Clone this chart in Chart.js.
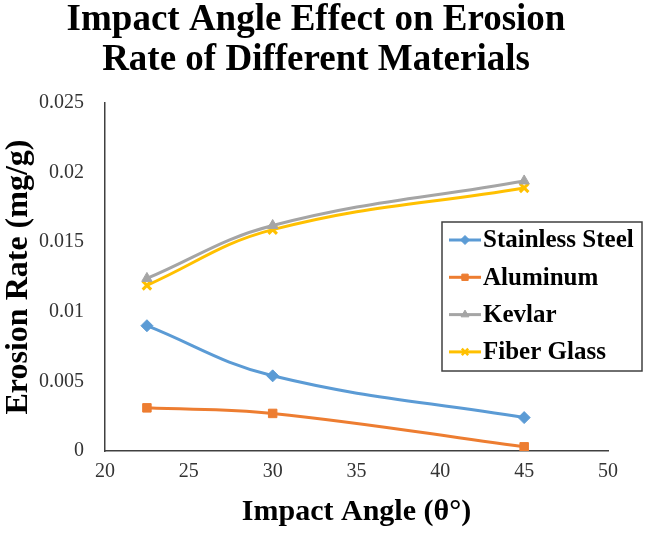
<!DOCTYPE html>
<html><head><meta charset="utf-8">
<script src="https://cdn.jsdelivr.net/npm/chart.js@4/dist/chart.umd.min.js"></script>
<style>html,body{margin:0;padding:0;background:#fff}#wrap{width:645px;height:534px}</style>
</head><body><div id="wrap"><canvas id="c" width="645" height="534"></canvas></div>
<script>
const titleLines = ["Impact Angle Effect on Erosion", "Rate of Different Materials"];
const xTitle = "Impact Angle (θ°)";
const yTitle = "Erosion Rate (mg/g)";
const angles = [22.5, 30, 45];
const seriesNames = ["Stainless Steel", "Aluminum", "Kevlar", "Fiber Glass"];
const stainlessSteel = [0.0090, 0.0054, 0.0024];
const aluminum = [0.0031, 0.0027, 0.0003];
const kevlar = [0.0124, 0.0162, 0.0194];
const fiberGlass = [0.0119, 0.0159, 0.0189];
const colors = ["#5B9BD5", "#ED7D31", "#A5A5A5", "#FFC000"];
const markers = ["rectRot", "rect", "triangle", "crossRot"];
const xTicks = [20, 25, 30, 35, 40, 45, 50];
const yTicks = [0, 0.005, 0.01, 0.015, 0.02, 0.025];

const allSeries = [stainlessSteel, aluminum, kevlar, fiberGlass];
const datasets = allSeries.map((vals, i) => ({
  label: seriesNames[i],
  data: vals.map((v, j) => ({x: angles[j], y: v})),
  borderColor: colors[i],
  backgroundColor: colors[i],
  borderWidth: 3,
  pointStyle: markers[i],
  pointRadius: 6,
  pointBorderWidth: markers[i] === "crossRot" ? 3 : 1,
  tension: 0.4,
  fill: false
}));

const serif = "'Liberation Serif', 'Times New Roman', serif";

const decor = {
  id: 'decor',
  afterDraw(chart) {
    const ctx = chart.ctx;
    ctx.save();
    ctx.fillStyle = '#000';
    ctx.textAlign = 'center';
    ctx.textBaseline = 'alphabetic';
    ctx.font = "bold 37px " + serif;
    ctx.fillText(titleLines[0], 316, 30);
    ctx.fillText(titleLines[1], 316, 70);
    // legend
    const lx = 442, ly = 222, lw = 200, lh = 149;
    ctx.fillStyle = '#fff';
    ctx.fillRect(lx, ly, lw, lh);
    ctx.strokeStyle = '#404040';
    ctx.lineWidth = 1.5;
    ctx.strokeRect(lx, ly, lw, lh);
    ctx.font = "bold 25px " + serif;
    ctx.textAlign = 'left';
    ctx.textBaseline = 'middle';
    chart.data.datasets.forEach((ds, i) => {
      const y = 240 + i * 37.3;
      ctx.strokeStyle = ds.borderColor;
      ctx.fillStyle = ds.borderColor;
      ctx.lineWidth = 3;
      ctx.beginPath(); ctx.moveTo(449, y); ctx.lineTo(481, y); ctx.stroke();
      ctx.lineWidth = ds.pointStyle === 'crossRot' ? 2.5 : 1;
      Chart.helpers.drawPoint(ctx, {pointStyle: ds.pointStyle, radius: 4.5, borderWidth: ctx.lineWidth, rotation: 0}, 465, y);
      ctx.fillStyle = '#000';
      ctx.fillText(ds.label, 483, y + 1);
    });
    ctx.restore();
  }
};

new Chart(document.getElementById('c'), {
  type: 'line',
  data: { datasets },
  options: {
    responsive: false,
    animation: false,
    layout: { padding: { top: 103, right: 37, left: 0, bottom: 0 } },
    plugins: { legend: { display: false }, title: { display: false }, tooltip: { enabled: false } },
    scales: {
      x: {
        type: 'linear', min: 20, max: 50,
        afterBuildTicks: s => { s.ticks = xTicks.map(v => ({value: v})); },
        grid: { display: false, drawTicks: false },
        border: { color: '#404040', width: 1.5 },
        ticks: { color: '#333', font: { family: serif, size: 20 }, padding: 9 },
        title: { display: true, text: xTitle, color: '#000', font: { family: serif, size: 30, weight: 'bold' }, padding: { top: 4 } },
        afterFit: s => { s.height = 83; }
      },
      y: {
        type: 'linear', min: 0, max: 0.025,
        afterBuildTicks: s => { s.ticks = yTicks.map(v => ({value: v})); },
        grid: { display: false, drawTicks: false },
        border: { color: '#404040', width: 1.5 },
        ticks: { color: '#333', font: { family: serif, size: 20 }, padding: 21,
          callback: v => String(Number(v.toFixed(3))) },
        title: { display: true, text: yTitle, color: '#000', font: { family: serif, size: 32, weight: 'bold' }, padding: { top: 0, bottom: 0 } },
        afterFit: s => { s.width = 105; }
      }
    }
  },
  plugins: [decor]
});
</script>
</body></html>
